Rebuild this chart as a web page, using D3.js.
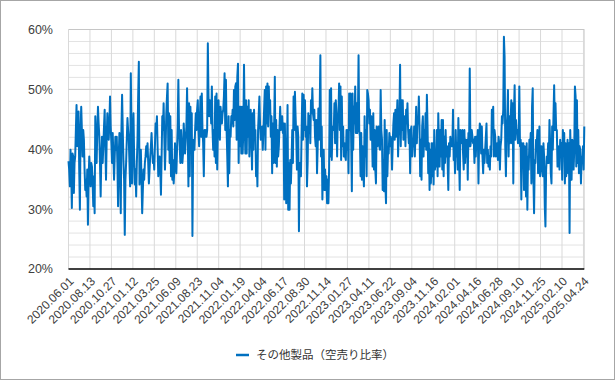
<!DOCTYPE html>
<html><head><meta charset="utf-8">
<script src="https://cdn.jsdelivr.net/npm/d3@7"></script>
<style>html,body{margin:0;padding:0;background:#fff}svg{display:block}</style>
</head><body>
<div id="chart"></div>
<script>
const seriesName = "その他製品（空売り比率）";
const tickLabels = ["2020.06.01","2020.08.13","2020.10.27","2021.01.12","2021.03.25","2021.06.09","2021.08.23","2021.11.04","2022.01.19","2022.04.04","2022.06.17","2022.08.30","2022.11.14","2023.01.27","2023.04.11","2023.06.22","2023.09.04","2023.11.16","2024.02.01","2024.04.16","2024.06.28","2024.09.10","2024.11.25","2025.02.10","2025.04.24"];
const daysPerTick = 51;
const totalDays = 1226;
const yTicks = [20,30,40,50,60];
const ratio2020 = [38.0,36.6,33.8,39.9,36.6,30.2,39.3,38.8,32.7,37.7,38.8,43.2,47.4,40.5,41.0,46.3,36.6,29.9,43.2,47.1,43.2,38.8,43.2,41.6,36.6,33.2,34.9,32.1,36.6,27.4,34.9,38.8,36.6,33.8,37.7,37.1,34.3,30.5,35.5,29.3,45.5,40.5,37.7,43.2,47.1,44.3,42.1,37.7,32.1,38.8,42.1,37.7,40.5,43.8,46.6,40.5,34.9,41.6,46.0,43.2,41.6,44.3,48.8,43.8,41.0,37.7,42.7,38.8,34.9,38.8,42.1,39.9,42.1,37.7,30.5,38.8,42.7,36.6,29.3,43.2,49.1,43.2,38.2,34.9,25.7,34.9,37.7,41.6,45.2,43.2,41.6,37.7,33.8,52.7,43.2,34.3,42.1,46.0,38.8,34.1,36.6,32.1,37.7,41.6,48.8,54.6,34.1,37.7,39.9,34.9,29.3,33.2,36.6,34.9,37.7,38.8,40.5,38.8,41.0,37.7,34.3,36.6,38.8,40.5,42.7,39.9,37.7,38.8,36.6,40.5,44.3,43.2,45.5,40.5,35.5,37.7,38.8,36.6,32.4,38.8,45.5,43.2,47.7,42.1,36.6,40.5,46.0,48.8,51.0];
const ratio2021 = [39.9,46.0,37.7,45.5,35.5,43.2,34.9,38.2,34.3,36.6,41.0,38.2,36.0,39.9,43.8,51.6,43.2,40.5,37.7,43.2,40.5,37.7,39.3,44.3,41.6,39.3,41.6,43.8,50.2,43.2,33.8,47.7,35.5,47.1,40.5,46.0,25.5,39.3,41.6,39.9,43.2,46.0,43.2,46.6,48.2,43.2,40.5,44.3,48.8,42.1,49.3,43.2,41.0,35.5,43.2,42.1,43.2,42.1,43.2,57.7,48.8,45.5,48.2,47.7,44.3,50.5,43.2,39.9,43.2,38.8,48.8,37.7,49.3,36.6,43.2,48.2,43.2,41.6,47.1,45.5,44.3,46.0,46.6,48.8,52.7,43.2,51.6,43.2,38.8,33.8,45.5,36.0,43.2,42.1,45.5,44.3,46.6,43.8,49.9,44.9,50.5,51.0,41.6,52.1,54.3,37.7,47.1,40.5,47.1,39.3,47.1,39.3,43.2,54.1,44.3,39.3,48.2,39.3,47.1,42.1,48.2,38.8,43.8,46.6,41.6,36.6,46.0,39.9,46.6,41.6,43.2,35.5,38.8,33.8,43.2,46.0,48.8,43.8,41.6,43.2,43.8,39.9,43.2,46.6,49.9,39.9,50.5,44.3,51.0,43.8,50.5];
const ratio2022 = [46.0,48.2,42.1,45.5,36.0,44.3,37.7,43.8,52.1,37.7,44.9,37.1,43.2,38.8,40.5,43.8,47.1,43.2,43.8,45.5,42.7,44.3,31.6,44.3,37.1,31.0,38.8,47.4,29.9,37.7,29.9,38.2,34.3,38.2,43.2,37.7,48.8,43.2,49.6,45.5,42.1,36.6,43.8,42.1,26.3,37.7,36.6,35.5,43.2,49.3,41.6,49.1,43.2,48.2,42.1,43.8,33.8,37.7,46.0,42.7,45.5,41.0,48.2,46.0,50.2,46.0,44.9,46.6,42.1,40.5,44.9,36.0,40.5,46.8,41.6,46.6,55.7,38.8,43.8,31.6,37.7,39.9,33.2,36.6,33.2,35.5,31.0,34.9,31.0,36.6,49.9,38.8,50.2,38.2,43.2,43.8,43.2,47.7,41.0,48.2,46.0,38.8,45.5,46.0,51.0,43.2,50.5,38.2,48.8,40.5,43.8,38.8,41.0,38.8,38.2,43.2,39.9,43.2,36.0,49.3,43.2,49.3,41.0,33.0,49.3,39.9,47.1,44.3,50.5,42.7,47.7,42.7,44.9,55.7,43.2,42.1,35.5,42.7,34.9,40.5,36.6,33.8,45.5,38.8,43.2,35.5,49.9,49.3,48.2,44.3,46.6,41.6];
const ratio2023 = [45.5,43.2,37.1,46.0,36.6,43.2,36.6,34.3,43.8,40.5,42.7,43.8,40.5,39.9,49.9,43.2,41.6,33.2,38.2,33.0,44.9,34.3,31.0,43.2,35.5,39.9,39.3,42.7,40.5,42.1,41.0,36.6,41.0,44.3,46.0,41.6,46.6,42.1,44.9,48.2,38.8,43.2,45.5,54.1,40.5,48.2,43.2,48.2,41.6,42.1,45.5,40.5,46.6,44.3,47.7,43.2,41.0,43.2,36.0,43.2,43.8,38.8,41.6,40.5,43.8,38.8,42.7,47.1,41.0,44.9,44.3,48.8,43.8,35.5,41.6,34.9,43.8,45.5,38.8,43.2,40.5,46.0,39.9,49.1,43.8,36.0,41.0,33.2,39.9,34.3,41.0,35.5,41.0,34.1,43.2,36.6,38.8,37.1,43.2,35.5,46.0,41.0,37.1,43.2,38.8,44.9,36.6,44.9,35.5,42.1,37.7,43.2,38.8,40.5,37.7,33.2,41.0,38.8,42.1,40.5,41.6,40.5,46.6,38.2,40.5,36.0,43.2,38.8,41.0,36.6,45.2,38.8,33.2,43.2,41.0,42.1,43.2,39.3,36.6,43.2,37.7,41.6,38.8,41.6,34.9,42.7,40.5,53.5,40.5,41.6,43.2,42.1,41.0];
const ratio2024 = [41.6,37.7,42.1,38.8,42.1,40.5,43.2,34.3,41.6,44.3,43.8,39.3,43.8,38.8,36.0,39.9,37.7,39.9,42.1,44.3,37.7,39.9,37.1,38.8,36.6,40.5,38.8,46.6,43.2,47.1,38.8,43.2,42.1,38.8,40.5,41.0,38.2,42.1,41.0,36.6,40.5,41.6,45.5,44.3,46.6,58.8,55.5,40.5,35.5,43.2,45.5,49.9,38.8,45.5,41.0,44.3,48.2,41.0,47.7,34.3,46.0,50.7,41.6,44.9,42.7,43.2,41.0,41.6,50.5,40.5,41.6,31.6,41.0,38.8,41.0,33.2,40.5,38.2,32.1,41.0,29.9,38.8,36.6,41.6,38.8,42.7,34.3,47.1,50.2,35.5,29.3,38.2,37.7,41.6,41.0,43.2,36.0,36.6,43.8,35.5,38.8,40.5,36.6,35.5,41.0,38.8,30.5,27.1,36.6,38.8,37.7,41.0,37.7,44.9,41.0,36.0,34.3,43.8,39.9,45.5,50.7,43.2,47.7,43.2,43.2,37.1,40.5,39.9,36.6,41.6,38.8,41.0,34.9,43.2,40.5,42.7,34.3,41.0,35.5,38.8,41.6,36.0,41.0,26.0,43.2,36.6,34.9,41.6,41.0,36.6,39.9,50.5,48.8,37.1,48.2,37.7,43.2,36.0,40.5,39.9,34.3,38.8,37.7,40.5,36.6,43.8];
const ratio = ratio2020.concat(ratio2021, ratio2022, ratio2023, ratio2024);

const W = 615, H = 380;
const m = {left: 68.5, right: 584.3, top: 29.5, bottom: 269};
const svg = d3.select("#chart").append("svg").attr("width", W).attr("height", H);
svg.append("rect").attr("x",0.5).attr("y",0.5).attr("width",W-1).attr("height",H-1)
  .attr("fill","#fff").attr("stroke","#a6a6a6");

const x = d3.scaleLinear().domain([0,totalDays]).range([m.left,m.right]);
const y = d3.scaleLinear().domain([20,60]).range([m.bottom,m.top]);
const dayOf = i => i * totalDays / (ratio.length - 1);

// minor grid
const minor = d3.range(22,60,2).filter(v => v % 10 !== 0);
svg.append("g").selectAll("line").data(minor).join("line")
  .attr("x1",m.left).attr("x2",m.right).attr("y1",d=>y(d)).attr("y2",d=>y(d))
  .attr("stroke","#e3e3e3").attr("stroke-width",1);
// vertical grid
const tickDays = tickLabels.map((t,i)=>i*daysPerTick);
svg.append("g").selectAll("line").data(tickDays.slice(1)).join("line")
  .attr("x1",d=>x(d)).attr("x2",d=>x(d)).attr("y1",m.top).attr("y2",m.bottom)
  .attr("stroke","#d9d9d9").attr("stroke-width",1);
svg.append("line").attr("x1",m.left).attr("x2",m.left).attr("y1",m.top).attr("y2",m.bottom)
  .attr("stroke","#d9d9d9");
svg.append("line").attr("x1",m.right).attr("x2",m.right).attr("y1",m.top).attr("y2",m.bottom)
  .attr("stroke","#d9d9d9");
// major grid
svg.append("g").selectAll("line").data(yTicks.slice(1)).join("line")
  .attr("x1",m.left).attr("x2",m.right).attr("y1",d=>y(d)).attr("y2",d=>y(d))
  .attr("stroke","#c6c6c6").attr("stroke-width",1);

// y labels
svg.append("g").selectAll("text").data(yTicks).join("text")
  .attr("x",53).attr("y",d=>y(d)).attr("dy","0.35em").attr("text-anchor","end")
  .attr("font-family","Liberation Sans, Arial, sans-serif").attr("font-size",12.5).attr("fill","#404040")
  .text(d=>d+"%");

// line
const line = d3.line().x((d,i)=>x(dayOf(i))).y(d=>y(d));
svg.append("path").datum(ratio).attr("d",line).attr("fill","none")
  .attr("stroke","#0070c0").attr("stroke-width",2).attr("stroke-linejoin","round");

// x axis line
svg.append("line").attr("x1",m.left).attr("x2",m.right).attr("y1",m.bottom).attr("y2",m.bottom)
  .attr("stroke","#000").attr("stroke-width",1.5);

// x labels
svg.append("g").selectAll("text").data(tickLabels).join("text")
  .attr("transform",(d,i)=>`translate(${x(tickDays[i])+3},${m.bottom+10}) rotate(-45)`)
  .attr("text-anchor","end").attr("dy","0.35em")
  .attr("font-family","Liberation Sans, Arial, sans-serif").attr("font-size",12).attr("fill","#404040")
  .text(d=>d);

// legend
const lg = svg.append("g").attr("transform","translate(236,355)");
lg.append("line").attr("x1",0).attr("x2",13).attr("y1",0).attr("y2",0).attr("stroke","#0070c0").attr("stroke-width",2.5);
lg.append("text").attr("x",20).attr("y",0).attr("dy","0.35em")
  .attr("font-family","Noto Sans CJK JP, sans-serif").attr("font-size",11.5).attr("fill","#333")
  .text(seriesName);
</script>
</body></html>
